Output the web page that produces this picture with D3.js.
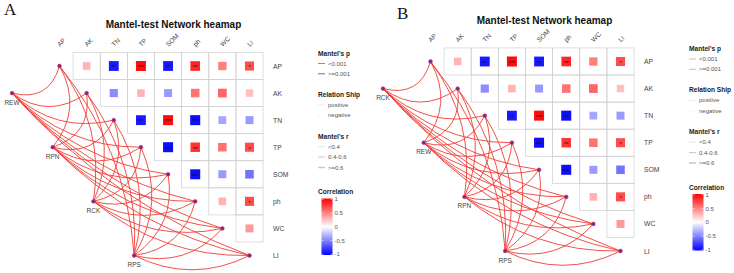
<!DOCTYPE html>
<html>
<head>
<meta charset="utf-8">
<script src="https://cdn.jsdelivr.net/npm/d3@7"></script>
<style>
body { margin: 0; background: #fff; }
text { font-family: "Liberation Sans", Arial, sans-serif; }
</style>
</head>
<body>
<script>
var vars = ["AP", "AK", "TN", "TP", "SOM", "ph", "WC", "LI"];

// upper triangle: row i holds r(i, j) for j > i
var corrRows = [
	[0.3, -0.9, 0.95, -0.9, 0.85, 0.5, 0.7],
	[-0.45, 0.3, -0.4, 0.55, 0.6, 0.25],
	[-0.9, 0.95, -0.95, -0.35, -0.4],
	[-0.95, 0.8, 0.55, 0.7],
	[-0.95, -0.4, -0.55],
	[0.3, 0.7],
	[0.4]
];
var signifRows = [
	["", "**", "***", "**", "**", "", "*"],
	["", "", "", "", "", ""],
	["**", "***", "***", "", ""],
	["***", "**", "", "*"],
	["***", "", ""],
	["", "*"],
	[""]
];

var specsA = ["REW", "RPN", "RCK", "RPS"];
var specsB = ["RCK", "REW", "RPN", "RPS"];
// Mantel's p of each spec -> variable link (same for every spec)
var edgeP = ["<0.001", "<0.001", "<0.001", "<0.001", "<0.001", "<0.001", "<0.001", "<0.001"];

var pLevels = ["<0.001", ">=0.001"];
var relLevels = ["positive", "negative"];
var rLevels = ["<0.4", "0.4-0.6", ">=0.6"];
var colorTicks = [1, 0.5, 0, -0.5, -1];

var width = 734, height = 273;

var svg = d3.select("body").append("svg")
	.attr("width", width).attr("height", height)
	.style("background", "#fff");

var color = d3.scaleLinear().domain([-1, 0, 1]).range(["#0000ff", "#ffffff", "#ff0000"]);
var size = d3.scaleLinear().domain([0, 1]).range([6.5, 10.2]);

var grad = svg.append("defs").append("linearGradient")
	.attr("id", "corrGrad")
	.attr("x1", 0).attr("y1", 0).attr("x2", 0).attr("y2", 1);
grad.selectAll("stop").data(d3.range(0, 1.001, 0.05))
	.enter().append("stop")
	.attr("offset", function(d) { return d; })
	.attr("stop-color", function(d) { return color(1 - 2 * d); });

function drawPanel(ox, oy, specs, pColors) {
	var g = svg.append("g").attr("transform", "translate(" + ox + "," + oy + ")");

	var x = d3.scaleLinear().domain([0, 7]).range([59.5, 249.5]);
	var y = d3.scaleLinear().domain([0, 7]).range([66, 255.5]);
	var step = x(1) - x(0);

	var cells = [];
	corrRows.forEach(function(row, i) {
		row.forEach(function(r, k) {
			cells.push({i: i, j: i + 1 + k, r: r, s: signifRows[i][k]});
		});
	});

	g.append("text")
		.attr("x", 173.5).attr("y", 28)
		.attr("text-anchor", "middle")
		.attr("font-size", "10px").attr("font-weight", "bold")
		.attr("fill", "#111")
		.text("Mantel-test Network heamap");

	// grid boxes
	g.selectAll(".box").data(cells)
		.enter().append("rect")
		.attr("class", "box")
		.attr("x", function(d) { return x(d.j) - step / 2; })
		.attr("y", function(d) { return y(d.i) - step / 2; })
		.attr("width", step).attr("height", step)
		.attr("fill", "none").attr("stroke", "#cfcfcf").attr("stroke-width", 0.7);

	g.selectAll(".sq").data(cells)
		.enter().append("rect")
		.attr("class", "sq")
		.attr("x", function(d) { return x(d.j) - size(Math.abs(d.r)) / 2; })
		.attr("y", function(d) { return y(d.i) - size(Math.abs(d.r)) / 2; })
		.attr("width", function(d) { return size(Math.abs(d.r)); })
		.attr("height", function(d) { return size(Math.abs(d.r)); })
		.attr("fill", function(d) { return color(d.r); });

	g.selectAll(".star").data(cells.filter(function(d) { return d.s; }))
		.enter().append("text")
		.attr("class", "star")
		.attr("x", function(d) { return x(d.j); })
		.attr("y", function(d) { return y(d.i) + 3.3; })
		.attr("text-anchor", "middle")
		.attr("font-size", "5.5px")
		.attr("fill", "#111")
		.text(function(d) { return d.s; });

	// column labels
	g.selectAll(".colLab").data(vars)
		.enter().append("text")
		.attr("class", "colLab")
		.attr("transform", function(d, i) { return "translate(" + (x(i) + 0.5) + ",47) rotate(-45)"; })
		.attr("font-size", "6.6px").attr("fill", "#444")
		.text(function(d) { return d; });

	// row labels
	g.selectAll(".rowLab").data(vars)
		.enter().append("text")
		.attr("class", "rowLab")
		.attr("x", 273)
		.attr("y", function(d, i) { return y(i) + 2.5; })
		.attr("font-size", "6.8px").attr("fill", "#444")
		.text(function(d) { return d; });

	// network
	var specPos = specs.map(function(s, k) {
		return {name: s, x: x(-1.75 + 1.5 * k), y: y(1 + 2 * k)};
	});

	var links = [];
	specPos.forEach(function(s) {
		vars.forEach(function(v, j) {
			links.push({from: s, tx: x(j), ty: y(j), p: edgeP[j]});
		});
	});

	g.selectAll(".link").data(links)
		.enter().append("path")
		.attr("class", "link")
		.attr("d", function(d) {
			var dx = d.tx - d.from.x, dy = d.ty - d.from.y;
			var len = Math.sqrt(dx * dx + dy * dy);
			var bend = 24 + 0.04 * len;
			var cx = (d.from.x + d.tx) / 2 - dy / len * bend;
			var cy = (d.from.y + d.ty) / 2 + dx / len * bend;
			return "M" + d.from.x + "," + d.from.y + "Q" + cx + "," + cy + " " + d.tx + "," + d.ty;
		})
		.attr("fill", "none")
		.attr("stroke", function(d) { return d.p == "<0.001" ? "#ef3d36" : pColors[1]; })
		.attr("stroke-width", 0.9);

	var nodes = specPos.concat(vars.map(function(v, j) { return {name: v, x: x(j), y: y(j), isVar: true}; }));
	g.selectAll(".node").data(nodes)
		.enter().append("circle")
		.attr("class", "node")
		.attr("cx", function(d) { return d.x; })
		.attr("cy", function(d) { return d.y; })
		.attr("r", 1.9)
		.attr("fill", "#6a2c96")
		.attr("stroke", "#d8345e").attr("stroke-width", 0.6);

	g.selectAll(".specLab").data(specPos)
		.enter().append("text")
		.attr("class", "specLab")
		.attr("x", function(d) { return d.x; })
		.attr("y", function(d) { return d.y + 11.5; })
		.attr("text-anchor", "middle")
		.attr("font-size", "6.5px").attr("fill", "#444")
		.text(function(d) { return d.name; });

	// legends
	var lx = 318;
	function legendTitle(t, cy) {
		g.append("text").attr("x", lx).attr("y", cy + 2.4)
			.attr("font-size", "6.6px").attr("font-weight", "bold").attr("fill", "#222")
			.text(t);
	}
	function legendItem(t, cy, stroke, sw, dash) {
		g.append("line").attr("x1", lx).attr("x2", lx + 7).attr("y1", cy).attr("y2", cy)
			.attr("stroke", stroke).attr("stroke-width", sw)
			.attr("stroke-dasharray", dash || null);
		g.append("text").attr("x", lx + 10).attr("y", cy + 2.1)
			.attr("font-size", "6px").attr("fill", "#555")
			.text(t);
	}

	legendTitle("Mantel's p", 53.5);
	pLevels.forEach(function(t, i) { legendItem(t, 63.5 + i * 10.3, pColors[i], 0.8); });

	legendTitle("Relation Ship", 94.2);
	relLevels.forEach(function(t, i) { legendItem(t, 104.8 + i * 10.5, "#e4e4e4", 0.6, i == 1 ? "2,1.5" : null); });

	legendTitle("Mantel's r", 136.5);
	rLevels.forEach(function(t, i) { legendItem(t, 146.7 + i * 10.4, "#c8c8c8", 0.5 + i * 0.5); });

	legendTitle("Correlation", 191.7);
	var cb = d3.scaleLinear().domain([-1, 1]).range([254.3, 199.3]);
	g.append("rect")
		.attr("x", 321.5).attr("y", 198.5)
		.attr("width", 11).attr("height", 56.5)
		.attr("fill", "url(#corrGrad)");
	g.selectAll(".cbTick").data(colorTicks)
		.enter().append("path")
		.attr("class", "cbTick")
		.attr("d", function(d) { return "M321.5," + cb(d) + "h2.2M332.5," + cb(d) + "h-2.2"; })
		.attr("stroke", "#fff").attr("stroke-width", 0.5);
	g.selectAll(".cbLab").data(colorTicks)
		.enter().append("text")
		.attr("class", "cbLab")
		.attr("x", 334.5)
		.attr("y", function(d) { return cb(d) + 2.1; })
		.attr("font-size", "6px").attr("fill", "#555")
		.text(function(d) { return d; });
}

drawPanel(0, 0, specsA, ["#e8414b", "#3d5566"]);
drawPanel(371, -4.5, specsB, ["#f29aa3", "#9fb3cf"]);

svg.append("text").attr("x", 4).attr("y", 15)
	.style("font-family", "'Liberation Serif', 'Times New Roman', serif")
	.attr("font-size", "17px").attr("fill", "#111")
	.text("A");
svg.append("text").attr("x", 397).attr("y", 18.5)
	.style("font-family", "'Liberation Serif', 'Times New Roman', serif")
	.attr("font-size", "17px").attr("fill", "#111")
	.text("B");
</script>
</body>
</html>
